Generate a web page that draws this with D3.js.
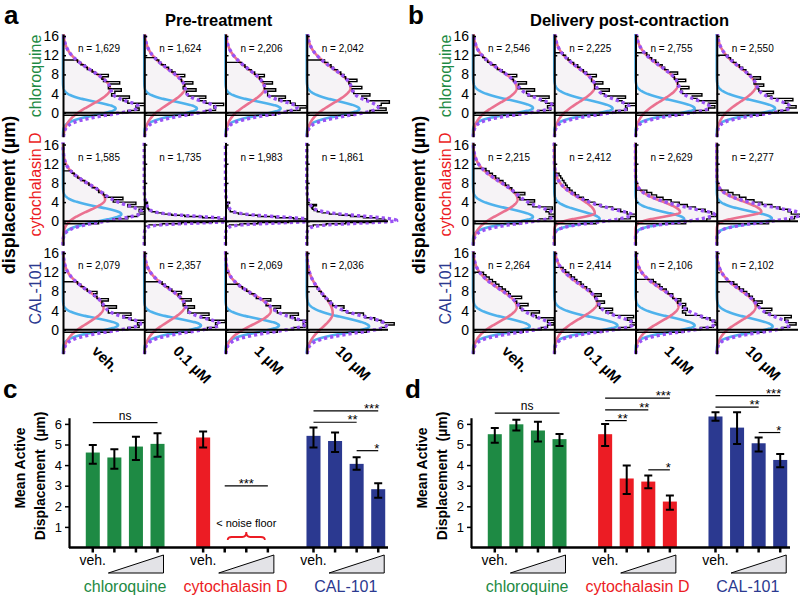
<!DOCTYPE html>
<html>
<head>
<meta charset="utf-8">
<script src="https://cdn.jsdelivr.net/npm/d3@7"></script>
<style>
  body { margin: 0; background: #fff; }
  svg { display: block; font-family: Arial, "Liberation Sans", Helvetica, sans-serif; }
</style>
</head>
<body>
<svg id="fig" width="800" height="601"></svg>
<script>
const conditions = ["Pre-treatment", "Delivery post-contraction"];
const drugs = ["chloroquine", "cytochalasin D", "CAL-101"];
const doses = ["veh.", "0.1 µM", "1 µM", "10 µM"];
const displacementTicks = [0, 4, 8, 12, 16];
const barTicks = [1, 2, 3, 4, 5, 6];

// number of tracked particles per panel (row = drug, col = dose)
const cellsPre = [[1629, 1624, 2206, 2042], [1585, 1735, 1983, 1861], [2079, 2357, 2069, 2036]];
const cellsPost = [[2546, 2225, 2755, 2550], [2215, 2412, 2629, 2277], [2264, 2414, 2106, 2102]];

// fitted components: [amplitude, mode (µm), sd below mode, sd above mode]
const passiveFitPre = [
  [[65, 0.9, 1.4, 1.4], [65, 0.9, 1.4, 1.4], [68, 0.9, 1.4, 1.4], [65, 0.8, 1.4, 1.6]],
  [[72, 1.5, 1.5, 1.5], [111, 0.15, 0.45, 0.75], [105, 0.15, 0.45, 0.7], [99, 0.15, 0.5, 0.9]],
  [[68, 1.0, 1.4, 1.4], [70, 0.9, 1.4, 1.4], [66, 0.9, 1.4, 1.4], [77, 0.7, 1.4, 1.8]]
];
const activeFitPre = [
  [[58, 5.0, 3.3, 3.8], [50, 5.2, 3.3, 3.8], [48, 5.2, 3.2, 3.8], [54, 5.3, 3.3, 3.9]],
  [[52, 4.6, 2.4, 3.2], [10, 0.3, 1.0, 2.0], [10, 0.3, 1.0, 2.0], [12, 0.3, 1.0, 2.2]],
  [[50, 4.6, 3.2, 3.6], [50, 5.0, 3.2, 3.6], [56, 4.0, 2.9, 3.4], [32, 3.5, 3.0, 4.0]]
];
const passiveFitPost = [
  [[74, 1.0, 1.3, 1.7], [72, 0.9, 1.3, 1.7], [73, 0.9, 1.3, 1.7], [72, 0.9, 1.3, 1.7]],
  [[74, 0.9, 1.3, 1.7], [56, 0.5, 1.0, 1.6], [60, 0.5, 1.0, 1.4], [68, 0.6, 1.1, 1.5]],
  [[70, 0.7, 1.3, 1.7], [78, 0.9, 1.3, 1.7], [73, 0.9, 1.3, 1.7], [69, 0.7, 1.3, 1.7]]
];
const activeFitPost = [
  [[54, 5.2, 3.2, 3.8], [50, 5.5, 3.3, 3.8], [52, 5.8, 3.3, 3.8], [48, 5.6, 3.3, 3.8]],
  [[55, 4.6, 3.0, 3.6], [50, 1.7, 1.0, 3.2], [55, 1.9, 1.0, 2.2], [55, 2.0, 1.0, 2.1]],
  [[54, 4.8, 3.1, 3.7], [53, 5.6, 3.2, 3.8], [53, 4.9, 3.1, 3.6], [48, 4.8, 3.0, 3.5]]
];
// panels where the two-component decomposition is plotted
const fitShownPre = [[1, 1, 1, 1], [1, 0, 0, 0], [1, 1, 1, 1]];
const fitShownPost = [[1, 1, 1, 1], [1, 1, 1, 1], [1, 1, 1, 1]];

// histograms of displacement: first bin edge (µm), bin width (µm), relative counts
const histPre = [
  [
    { from: -0.5, width: 0.5, counts: [60, 80, 94, 90, 104, 80, 74, 82, 60, 64, 72, 56, 58, 70, 50, 48, 56, 40, 36, 30, 27, 22, 18] },
    { from: -0.5, width: 0.5, counts: [56, 76, 88, 86, 98, 76, 68, 76, 54, 52, 64, 48, 50, 60, 46, 44, 50, 38, 34, 30, 26, 21, 18, 15] },
    { from: -0.5, width: 0.5, counts: [62, 76, 92, 100, 86, 80, 66, 74, 52, 52, 62, 48, 48, 58, 44, 42, 48, 36, 32, 27, 24, 20] },
    { from: -0.5, width: 0.5, counts: [60, 78, 98, 88, 92, 102, 74, 68, 78, 58, 56, 68, 54, 52, 62, 48, 46, 42, 38, 33, 30, 26, 22] }
  ],
  [
    { from: -0.5, width: 0.5, counts: [44, 62, 80, 92, 110, 94, 100, 80, 90, 62, 74, 52, 50, 44, 42, 36, 32, 27, 22, 18, 14, 11] },
    { from: -1, width: 0.25, counts: [6, 22, 46, 84, 110, 106, 92, 72, 50, 34, 22, 14, 9, 6, 5, 4, 3, 3, 2, 4] },
    { from: -1, width: 0.25, counts: [5, 18, 40, 78, 102, 100, 84, 62, 40, 26, 16, 10, 6, 5, 4, 3, 3, 2, 3, 5] },
    { from: -1, width: 0.25, counts: [8, 24, 48, 80, 98, 96, 86, 70, 54, 40, 28, 19, 13, 9, 7, 6, 8, 12] }
  ],
  [
    { from: -0.5, width: 0.5, counts: [60, 80, 94, 92, 106, 84, 74, 84, 56, 56, 66, 48, 48, 56, 42, 38, 42, 30, 26, 22, 18] },
    { from: -0.5, width: 0.5, counts: [58, 78, 90, 88, 100, 80, 70, 80, 54, 54, 62, 48, 50, 58, 44, 42, 46, 34, 30, 26, 22] },
    { from: -0.5, width: 0.5, counts: [64, 84, 98, 96, 108, 86, 80, 90, 64, 60, 68, 50, 50, 56, 38, 36, 30, 26, 21, 17] },
    { from: -0.5, width: 0.5, counts: [74, 92, 98, 108, 92, 84, 72, 70, 50, 44, 46, 32, 30, 26, 23, 20, 18, 15, 13] }
  ]
];
const histPost = [
  [
    { from: -0.5, width: 0.5, counts: [58, 80, 96, 92, 108, 90, 84, 94, 68, 66, 76, 56, 56, 66, 50, 48, 54, 39, 36, 30, 28, 22, 18, 15, 12] },
    { from: -0.5, width: 0.5, counts: [56, 76, 90, 88, 102, 84, 78, 88, 62, 58, 68, 50, 50, 60, 46, 46, 52, 40, 36, 32, 29, 24, 20, 17, 14, 11] },
    { from: -0.5, width: 0.5, counts: [58, 74, 90, 98, 90, 100, 76, 70, 82, 58, 56, 66, 52, 52, 62, 48, 46, 52, 40, 36, 33, 28, 25, 20, 17, 14] },
    { from: -0.5, width: 0.5, counts: [56, 76, 86, 98, 88, 84, 94, 68, 62, 70, 52, 50, 58, 46, 46, 54, 42, 38, 36, 32, 28, 24, 20, 17, 14] }
  ],
  [
    { from: -0.5, width: 0.5, counts: [60, 82, 94, 106, 94, 90, 98, 74, 68, 76, 58, 56, 64, 50, 48, 44, 40, 37, 32, 28, 24, 20, 16] },
    { from: -0.5, width: 0.5, counts: [52, 80, 94, 104, 90, 82, 72, 58, 50, 42, 36, 30, 26, 22, 19, 16, 14, 12, 10, 8, 6] },
    { from: -0.5, width: 0.5, counts: [62, 88, 92, 100, 94, 86, 74, 64, 54, 44, 34, 26, 20, 14] },
    { from: -0.5, width: 0.5, counts: [64, 90, 96, 104, 92, 88, 78, 68, 56, 46, 36, 28, 20, 14] }
  ],
  [
    { from: -0.5, width: 0.5, counts: [62, 84, 92, 100, 92, 100, 78, 72, 82, 60, 58, 68, 54, 52, 60, 46, 44, 40, 36, 32, 28, 24, 20, 16, 13] },
    { from: -0.5, width: 0.5, counts: [60, 80, 94, 104, 96, 90, 98, 72, 64, 72, 56, 54, 62, 52, 50, 58, 46, 44, 40, 36, 33, 28, 25, 21, 18, 14, 11] },
    { from: -0.5, width: 0.5, counts: [60, 80, 96, 100, 98, 92, 82, 62, 58, 64, 58, 62, 52, 56, 46, 46, 40, 38, 33, 30, 25, 22] },
    { from: -0.5, width: 0.5, counts: [60, 80, 90, 98, 88, 84, 92, 66, 60, 68, 52, 50, 56, 46, 44, 40, 37, 33, 28, 25, 21] }
  ]
];

// mean active displacement (µm) with error bar ends; null = below noise floor
const meanPre = [[4.61, 4.37, 4.9, 5.03], [5.34, null, null, null], [5.42, 5.17, 4.06, 2.83]];
const lowPre = [[4.06, 3.82, 4.25, 4.41], [4.85, null, null, null], [4.85, 4.63, 3.77, 2.42]];
const highPre = [[4.98, 4.77, 5.38, 5.55], [5.63, null, null, null], [5.82, 5.58, 4.38, 3.12]];
const meanPost = [[5.5, 5.98, 5.68, 5.26], [5.5, 3.35, 3.2, 2.23], [6.36, 5.82, 5.06, 4.25]];
const lowPost = [[5.08, 5.68, 5.14, 4.93], [4.93, 2.6, 2.88, 1.83], [6.15, 5.03, 4.66, 3.9]];
const highPost = [[5.8, 6.2, 6.11, 5.51], [5.99, 3.98, 3.49, 2.52], [6.57, 6.57, 5.34, 4.54]];

// significance brackets: drug group, first and last bar, height (µm), label
const sigPre = [
  { group: 0, from: 0, to: 3, at: 6.06, label: "ns" },
  { group: 1, from: 1, to: 3, at: 2.99, label: "***" },
  { group: 2, from: 0, to: 3, at: 6.63, label: "***" },
  { group: 2, from: 0, to: 2, at: 6.08, label: "**" },
  { group: 2, from: 2, to: 3, at: 4.7, label: "*" }
];
const sigPost = [
  { group: 0, from: 0, to: 3, at: 6.52, label: "ns" },
  { group: 1, from: 0, to: 3, at: 7.25, label: "***" },
  { group: 1, from: 0, to: 2, at: 6.68, label: "**" },
  { group: 1, from: 0, to: 1, at: 6.16, label: "**" },
  { group: 1, from: 2, to: 3, at: 3.77, label: "*" },
  { group: 2, from: 0, to: 3, at: 7.37, label: "***" },
  { group: 2, from: 0, to: 2, at: 6.81, label: "**" },
  { group: 2, from: 2, to: 3, at: 5.58, label: "*" }
];
const noiseFloorPre = { group: 1, from: 1, to: 3, label: "< noise floor" };

const drugColor = ["#1e8a44", "#ec1c24", "#2b3990"];
const FONT = 'Arial, "Liberation Sans", Helvetica, sans-serif';

const svg = d3.select("#fig");

function splitNormal(p, v) {
  const [a, m, sl, sh] = p;
  const s = v < m ? sl : sh;
  return a * Math.exp(-((v - m) * (v - m)) / (2 * s * s));
}

function drawDistributions(k) {
  const cells = [cellsPre, cellsPost][k];
  const passive = [passiveFitPre, passiveFitPost][k];
  const active = [activeFitPre, activeFitPost][k];
  const hist = [histPre, histPost][k];
  const shown = [fitShownPre, fitShownPost][k];
  const left = 63 + 410 * k;

  const g = svg.append("g");
  const cols = d3.scaleBand().domain(doses).range([left, left + 325]);
  const xs = d3.scaleLinear().domain([0, 100]).range([0, 81]);
  const samples = d3.range(-5, 16.401, 0.05);

  drugs.forEach((drug, r) => {
    const top = 36 + r * 108.5;
    const y = d3.scaleLinear().domain([-5, 16.4]).range([top + 100.8, top - 1.9]);
    const line = d3.line().x(d => xs(d[0])).y(d => y(d[1]));
    const curve = f => line(samples.map(v => [f(v), v]));

    doses.forEach((dose, c) => {
      const cell = g.append("g").attr("transform", `translate(${cols(dose)},0)`);
      const h = hist[r][c];
      const pts = [[0, h.from + h.width * h.counts.length]];
      for (let i = h.counts.length - 1; i >= 0; i--) {
        const lo = h.from + i * h.width;
        pts.push([h.counts[i], lo + h.width], [h.counts[i], lo]);
      }
      pts.push([0, h.from]);

      cell.append("path").attr("d", line(pts) + "Z").attr("fill", "#f6f3f6");

      if (shown[r][c]) {
        cell.append("path").attr("d", curve(v => splitNormal(passive[r][c], v)))
          .attr("fill", "none").attr("stroke", "#4fb2ec").attr("stroke-width", 2.6);
        cell.append("path").attr("d", curve(v => splitNormal(active[r][c], v)))
          .attr("fill", "none").attr("stroke", "#ea7190").attr("stroke-width", 2.6);
      }

      cell.append("path").attr("d", line(pts))
        .attr("fill", "none").attr("stroke", "#000").attr("stroke-width", 1.4);

      cell.append("path")
        .attr("d", curve(v => splitNormal(passive[r][c], v) + splitNormal(active[r][c], v)))
        .attr("fill", "none").attr("stroke", "#9a52f4").attr("stroke-width", 3.4)
        .attr("stroke-dasharray", "3.2,3");

      const ax = cell.append("g")
        .call(d3.axisLeft(y).tickValues(displacementTicks).tickSizeInner(-3).tickSizeOuter(0)
          .tickPadding(4).tickFormat(c ? "" : d3.format("d")))
        .attr("font-family", FONT).attr("font-size", 14);
      ax.select(".domain").attr("stroke-width", 2);
      ax.selectAll(".tick line").attr("stroke-width", 1.5);
      ax.selectAll(".tick text").attr("fill", "#000");

      cell.append("text")
        .attr("x", 36).attr("y", top + 16)
        .attr("text-anchor", "middle").attr("font-size", 10)
        .text("n = " + d3.format(",")(cells[r][c]));
    });

    g.append("line")
      .attr("x1", left).attr("x2", left + 325)
      .attr("y1", y(0)).attr("y2", y(0))
      .attr("stroke", "#000").attr("stroke-width", 2);

    g.append("text")
      .attr("transform", `translate(${left - 22},${top + 40}) rotate(-90)`)
      .attr("text-anchor", "middle").attr("font-size", 16)
      .attr("fill", drugColor[r]).text(drug);
  });

  g.append("text")
    .attr("transform", `translate(${left - 48},195) rotate(-90)`)
    .attr("text-anchor", "middle").attr("font-size", 18).attr("font-weight", "bold")
    .text("displacement (µm)");

  doses.forEach(dose => {
    g.append("text")
      .attr("transform", `translate(${cols(dose) + 28},352) rotate(45)`)
      .attr("font-size", 15).attr("font-weight", "bold").text(dose);
  });

  g.append("text")
    .attr("x", 165 + 365 * k).attr("y", 26)
    .attr("font-size", 16.5).attr("font-weight", "bold").text(conditions[k]);

  g.append("text")
    .attr("x", 4 + 404 * k).attr("y", 24)
    .attr("font-size", 26).attr("font-weight", "bold").text(["a", "b"][k]);
}

function drawBars(k) {
  const off = 402 * k;
  const means = [meanPre, meanPost][k];
  const lows = [lowPre, lowPost][k];
  const highs = [highPre, highPost][k];
  const sig = [sigPre, sigPost][k];

  const g = svg.append("g");
  const y = d3.scaleLinear().domain([0, 6.3]).range([547.5, 547.5 - 6.3 * 20.6]);
  const outer = d3.scaleBand().domain(drugs).range([82 + off, 389 + off]).paddingInner(0.218);
  const inner = d3.scaleBand().domain(d3.range(4)).range([0, outer.bandwidth()])
    .paddingInner(0.35).paddingOuter(0.175);
  const cx = (gi, i) => outer(drugs[gi]) + inner(i) + inner.bandwidth() / 2;

  drugs.forEach((drug, gi) => {
    means[gi].forEach((m, i) => {
      if (m === null) return;
      g.append("rect")
        .attr("x", outer(drug) + inner(i)).attr("width", inner.bandwidth())
        .attr("y", y(m)).attr("height", y(0) - y(m))
        .attr("fill", drugColor[gi]);
      const x = cx(gi, i);
      g.append("path")
        .attr("d", `M${x},${y(lows[gi][i])}V${y(highs[gi][i])}M${x - 4},${y(lows[gi][i])}H${x + 4}M${x - 4},${y(highs[gi][i])}H${x + 4}`)
        .attr("fill", "none").attr("stroke", "#000").attr("stroke-width", 2);
    });

    // x ticks under every bar slot
    d3.range(4).forEach(i => {
      g.append("line")
        .attr("x1", cx(gi, i)).attr("x2", cx(gi, i))
        .attr("y1", y(0)).attr("y2", y(0) + 5)
        .attr("stroke", "#000").attr("stroke-width", 2.5);
    });

    g.append("text")
      .attr("x", cx(gi, 0)).attr("y", 565)
      .attr("text-anchor", "middle").attr("font-size", 14).text(doses[0]);

    const wx0 = cx(gi, 1) - 6, wx1 = cx(gi, 3) + 6;
    g.append("path")
      .attr("d", `M${wx0},573L${wx1},573L${wx1},555Z`)
      .attr("fill", "#e3e3e7").attr("stroke", "#000").attr("stroke-width", 1);

    g.append("text")
      .attr("x", outer(drug) + outer.bandwidth() / 2).attr("y", 592)
      .attr("text-anchor", "middle").attr("font-size", 16)
      .attr("fill", drugColor[gi]).text(drug);
  });

  g.append("line")
    .attr("x1", 69 + off).attr("x2", 388 + off)
    .attr("y1", y(0)).attr("y2", y(0))
    .attr("stroke", "#000").attr("stroke-width", 2.5);

  const ax = g.append("g").attr("transform", `translate(${69 + off},0)`)
    .call(d3.axisLeft(y).tickValues(barTicks).tickFormat(d3.format("d"))
      .tickSizeInner(4).tickSizeOuter(0).tickPadding(3))
    .attr("font-family", FONT).attr("font-size", 13);
  ax.select(".domain").attr("stroke-width", 2.2);
  ax.selectAll(".tick line").attr("stroke-width", 1.5);
  ax.selectAll(".tick text").attr("fill", "#000");

  sig.forEach(s => {
    const x0 = cx(s.group, s.from), x1 = cx(s.group, s.to);
    const yy = y(s.at);
    g.append("line").attr("x1", x0).attr("x2", x1).attr("y1", yy).attr("y2", yy)
      .attr("stroke", "#000").attr("stroke-width", 1.2);
    const alone = sig.filter(t => t.group === s.group).length === 1;
    const isStar = s.label !== "ns";
    g.append("text")
      .attr("x", alone ? (x0 + x1) / 2 : x1 + 1)
      .attr("y", isStar ? yy + 2 : yy - 3)
      .attr("text-anchor", alone ? "middle" : "end")
      .attr("font-size", isStar ? 13 : 12).text(s.label);
  });

  if (k === 0) {
    const nf = noiseFloorPre;
    const x0 = cx(nf.group, nf.from) + 3, x1 = cx(nf.group, nf.to) - 3, xm = (x0 + x1) / 2;
    g.append("text").attr("x", xm).attr("y", 527)
      .attr("text-anchor", "middle").attr("font-size", 11).text(nf.label);
    g.append("path")
      .attr("d", `M${x0},540Q${x0},537 ${x0 + 4},537H${xm - 4}Q${xm},537 ${xm},532Q${xm},537 ${xm + 4},537H${x1 - 4}Q${x1},537 ${x1},540`)
      .attr("fill", "none").attr("stroke", drugColor[1]).attr("stroke-width", 1.8);
  }

  g.append("text")
    .attr("transform", `translate(${25 + off},468) rotate(-90)`)
    .attr("text-anchor", "middle").attr("font-size", 14).attr("font-weight", "bold")
    .text("Mean Active");
  g.append("text")
    .attr("transform", `translate(${45 + off},476) rotate(-90)`)
    .attr("text-anchor", "middle").attr("font-size", 14).attr("font-weight", "bold")
    .style("white-space", "pre")
    .text("Displacement  (µm)");

  g.append("text")
    .attr("x", 3 + off).attr("y", 398)
    .attr("font-size", 26).attr("font-weight", "bold").text(["c", "d"][k]);
}

drawDistributions(0);
drawDistributions(1);
drawBars(0);
drawBars(1);
</script>
</body>
</html>
